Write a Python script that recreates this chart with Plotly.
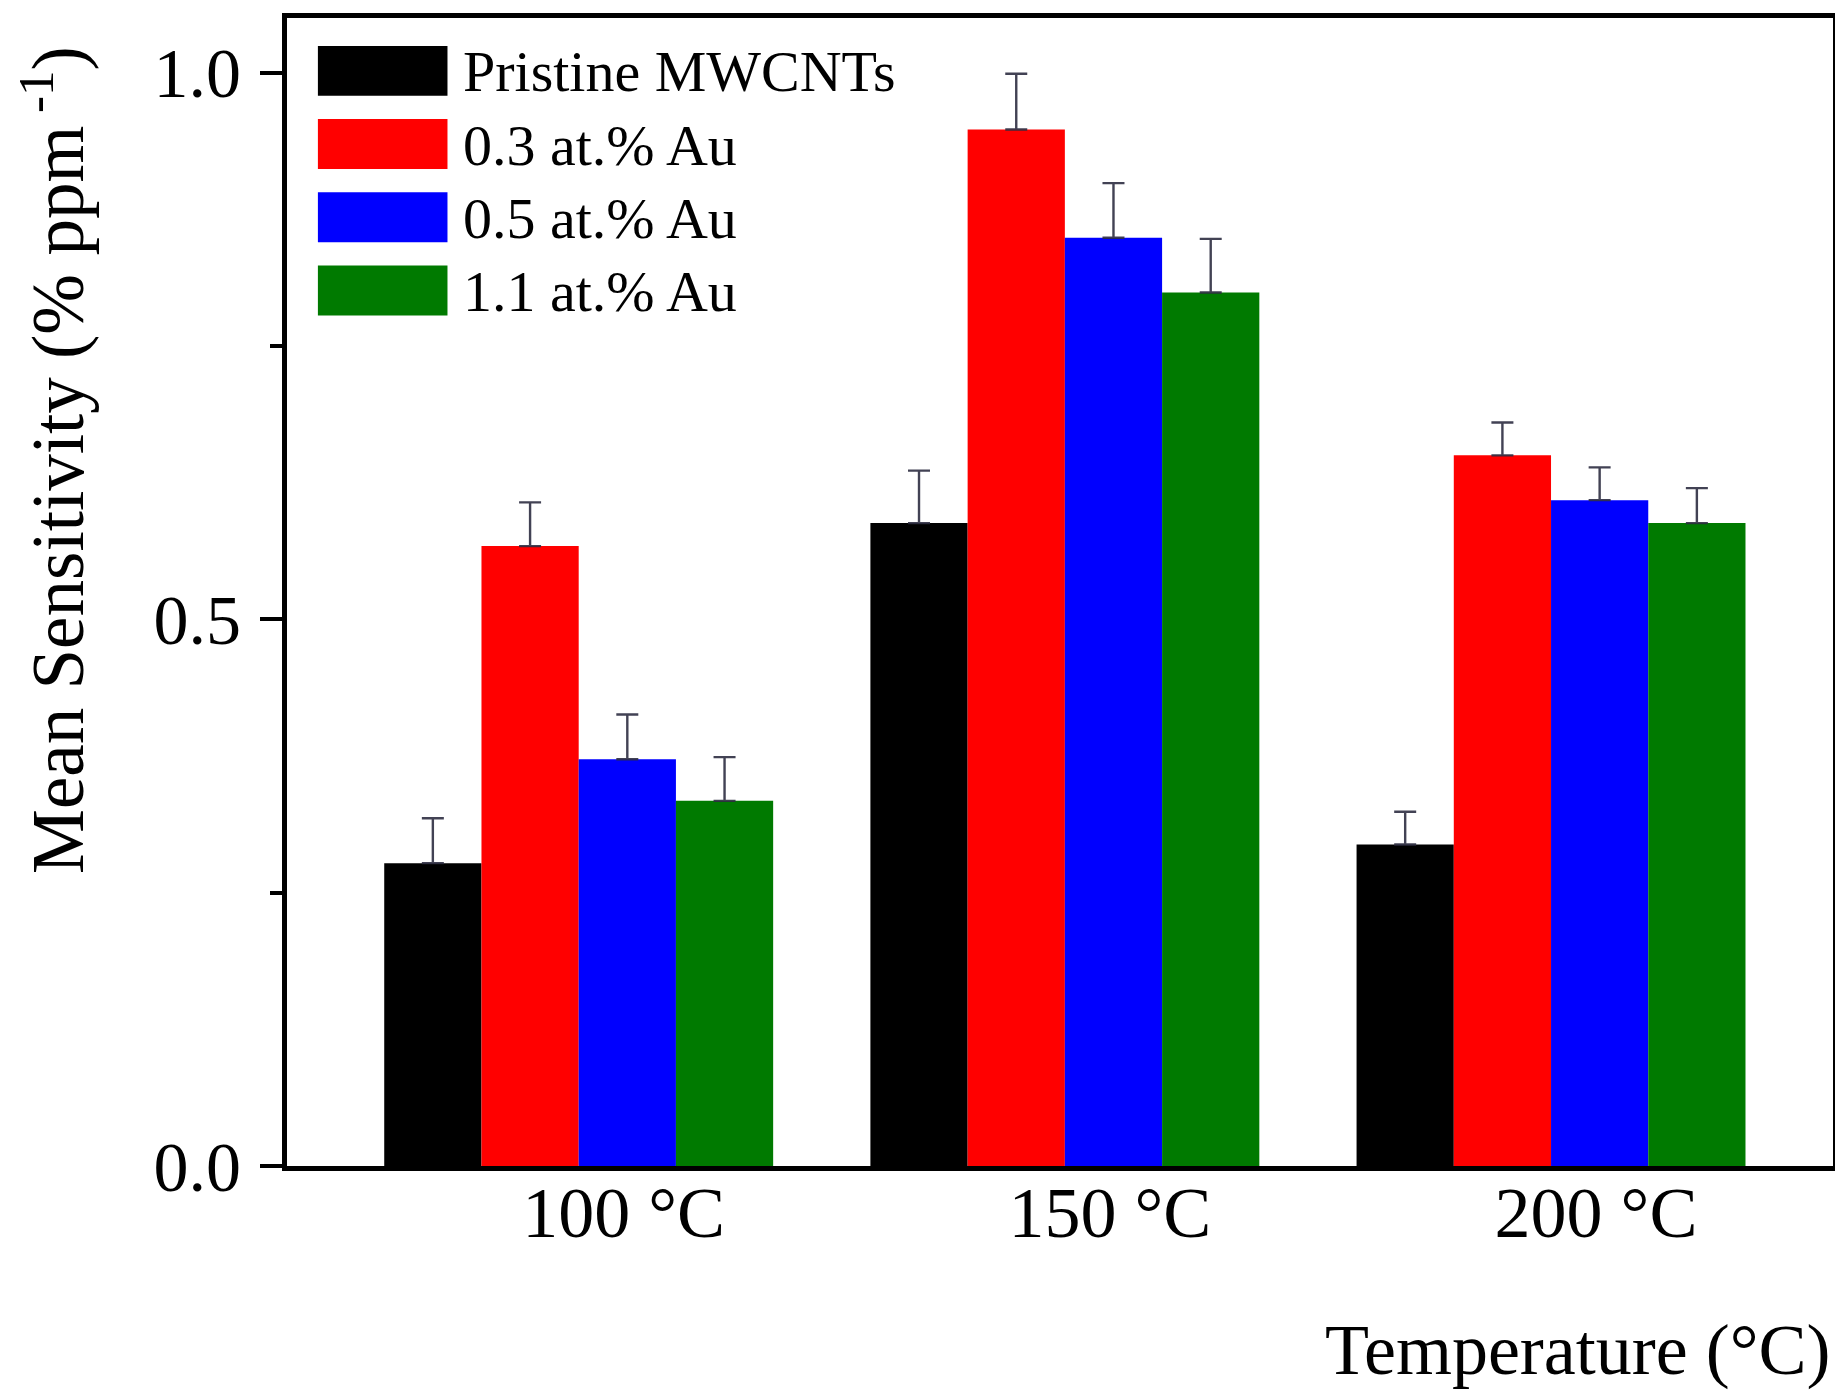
import plotly.graph_objects as go

# ---- data ----
categories = ["100 °C", "150 °C", "200 °C"]
series_names = ["Pristine MWCNTs", "0.3 at.% Au", "0.5 at.% Au", "1.1 at.% Au"]
series_colors = ["#000000", "#ff0000", "#0000ff", "#007a00"]

pristine = [0.277, 0.588, 0.294]
au_03 = [0.567, 0.948, 0.650]
au_05 = [0.372, 0.849, 0.609]
au_11 = [0.334, 0.799, 0.588]

pristine_err = [0.041, 0.048, 0.030]
au_03_err = [0.040, 0.051, 0.030]
au_05_err = [0.041, 0.050, 0.030]
au_11_err = [0.040, 0.049, 0.032]
no_err = [0, 0, 0]

y_ticks = [0.0, 0.5, 1.0]
y_tick_labels = ["0.0", "0.5", "1.0"]
y_minor_ticks = [0.25, 0.75]

values = [pristine, au_03, au_05, au_11]
errors = [pristine_err, au_03_err, au_05_err, au_11_err]

# page has an 8px body margin -> figure occupies (8,8)..(1843,1392)
OFF = 8
W, H = 1843 - OFF, 1392 - OFF
ML, MR, MT, MB = 279, 5, 8, 226
PW, PH = W - ML - MR, H - MT - MB

FONT = "Liberation Serif, Times New Roman, serif"

fig = go.Figure()
for name, col, v, e in zip(series_names, series_colors, values, errors):
    fig.add_trace(go.Bar(
        x=categories, y=v, name=name,
        marker=dict(color=col, line=dict(width=0)),
        error_y=dict(type="data", symmetric=False, array=e, arrayminus=no_err,
                     visible=True, color="rgba(45,45,65,0.9)",
                     thickness=2.4, width=11),
        showlegend=False,
    ))

def px_x(px):
    # px: page coordinate in the reference
    return (px - OFF - ML) / PW

def px_y(py):
    return (H - MB - (py - OFF)) / PH

# custom legend (big swatches like the reference)
shapes = []
annotations = []
for i, (name, col) in enumerate(zip(series_names, series_colors)):
    top = 44 + 73.3 * i
    shapes.append(dict(type="rect", xref="paper", yref="paper",
                       x0=px_x(318), x1=px_x(448),
                       y0=px_y(top + 50), y1=px_y(top),
                       fillcolor=col, line=dict(width=0)))
    annotations.append(dict(xref="paper", yref="paper",
                            x=px_x(462), y=px_y(top + 26),
                            xanchor="left", yanchor="middle",
                            text=name, showarrow=False,
                            font=dict(family=FONT, size=58, color="black")))

# y-axis title
annotations.append(dict(xref="paper", yref="paper",
                        x=px_x(52), y=px_y(459),
                        xanchor="center", yanchor="middle",
                        text="Mean Sensitivity (% ppm<sup> -1</sup>)",
                        textangle=-90, showarrow=False,
                        font=dict(family=FONT, size=73, color="black")))
# x-axis title (bottom right)
annotations.append(dict(xref="paper", yref="paper",
                        x=px_x(1838), y=px_y(1350),
                        xanchor="right", yanchor="middle",
                        text="Temperature (°C)", showarrow=False,
                        font=dict(family=FONT, size=72, color="black")))

fig.update_layout(
    width=W, height=H,
    margin=dict(l=ML, r=MR, t=MT, b=MB),
    paper_bgcolor="white", plot_bgcolor="white",
    barmode="group", bargap=0.2, bargroupgap=0,
    font=dict(family=FONT, color="black"),
    shapes=shapes, annotations=annotations,
    showlegend=False,
)
fig.update_xaxes(
    range=[-0.6, 2.58], showline=True, linecolor="black", linewidth=5,
    mirror=True, ticks="", showgrid=False, zeroline=False,
    ticklabelstandoff=-20, ticklabelshift=45,
    tickfont=dict(family=FONT, size=72, color="black"),
)
fig.update_yaxes(
    range=[0, 1.05], showline=True, linecolor="black", linewidth=5,
    mirror=True, ticks="outside", ticklen=22, tickwidth=4, tickcolor="black",
    tickvals=y_ticks, ticktext=y_tick_labels,
    minor=dict(ticks="outside", ticklen=12, tickwidth=4, tickcolor="black",
               tickvals=y_minor_ticks, showgrid=False),
    showgrid=False, zeroline=False, ticklabelstandoff=5,
    tickfont=dict(family=FONT, size=70, color="black"),
)

fig.write_html("out.html")
